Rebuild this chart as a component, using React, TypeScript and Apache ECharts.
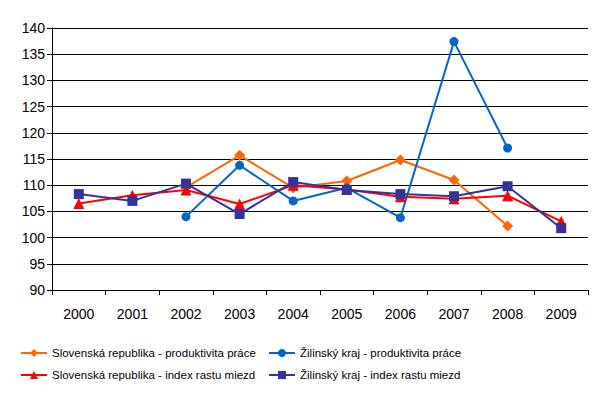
import React, { useEffect, useRef } from "react";
import * as echarts from "echarts";

const years = ["2000", "2001", "2002", "2003", "2004", "2005", "2006", "2007", "2008", "2009"];
const srProduktivita = [null, null, 109.6, 115.7, 109.5, 110.8, 114.8, 111.0, 102.2, null];
const zkProduktivita = [null, null, 104.0, 113.8, 107.0, 109.5, 103.8, 137.4, 117.1, null];
const srMzdy = [106.5, 108.1, 109.1, 106.4, 110.0, 109.2, 107.8, 107.4, 108.0, 103.1];
const zkMzdy = [108.3, 107.0, 110.3, 104.5, 110.6, 109.1, 108.3, 107.9, 109.8, 101.8];

const names = [
  "Slovenská republika - produktivita práce",
  "Žilinský kraj - produktivita práce",
  "Slovenská republika - index rastu miezd",
  "Žilinský kraj - index rastu miezd",
];

export default function App() {
  const ref = useRef<HTMLDivElement>(null);
  useEffect(() => {
    const chart = echarts.init(ref.current!, null, { renderer: "svg" });
    const mk = (left: number, top: number, name: string) => ({
      padding: 0,
      itemWidth: 26,
      itemHeight: 10,
      left,
      top,
      data: [name],
      textStyle: { fontFamily: "Liberation Sans", fontSize: 11.5, color: "#000" },
    });
    chart.setOption({
      animation: false,
      grid: { left: 52, right: 16, top: 28, bottom: 104 },
      xAxis: {
        type: "category",
        data: years,
        boundaryGap: true,
        axisLine: { lineStyle: { color: "#000", width: 1 } },
        axisTick: { show: true, length: 5, lineStyle: { color: "#000" } },
        axisLabel: { color: "#000", fontFamily: "Liberation Sans", fontSize: 14, margin: 17 },
      },
      yAxis: {
        type: "value",
        min: 90,
        max: 140,
        interval: 5,
        axisLine: { show: true, lineStyle: { color: "#000", width: 1 } },
        axisTick: { show: true, length: 5, lineStyle: { color: "#000" } },
        axisLabel: { color: "#000", fontFamily: "Liberation Sans", fontSize: 14, margin: 7 },
        splitLine: { lineStyle: { color: "#000", width: 1 } },
      },
      legend: [
        mk(20, 347, names[0]),
        mk(268, 347, names[1]),
        mk(20, 369, names[2]),
        mk(268, 369, names[3]),
      ],
      series: [
        { name: names[0], type: "line", data: srProduktivita, color: "#FF6600", symbol: "diamond", symbolSize: 11, lineStyle: { width: 2 } },
        { name: names[1], type: "line", data: zkProduktivita, color: "#0066CC", symbol: "circle", symbolSize: 9, lineStyle: { width: 2 } },
        { name: names[2], type: "line", data: srMzdy, color: "#FF0000", symbol: "triangle", symbolSize: 11, lineStyle: { width: 2 } },
        { name: names[3], type: "line", data: zkMzdy, color: "#333399", symbol: "rect", symbolSize: 10, lineStyle: { width: 2 } },
      ],
    });
    return () => chart.dispose();
  }, []);
  return <div ref={ref} style={{ width: 604, height: 394, position: "absolute", left: 0, top: 0 }} />;
}
